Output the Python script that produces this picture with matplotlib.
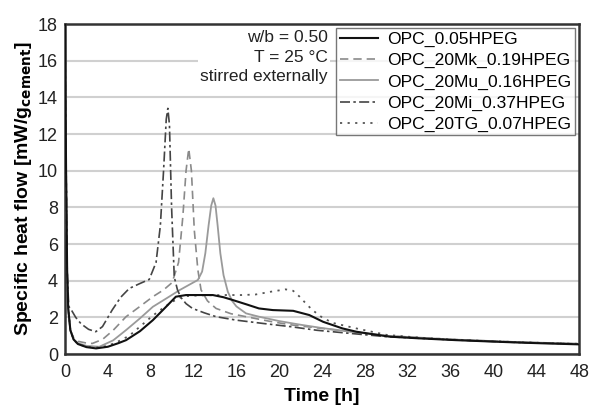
import matplotlib
matplotlib.use("Agg")
import matplotlib.pyplot as plt

plt.rcParams['font.family'] = ['Liberation Sans', 'DejaVu Sans']

# ---- data ----
t_opc = [0, 0.1, 0.2, 0.3, 0.5, 0.8, 1.2, 2.0, 2.9, 4.0, 5.0, 5.7, 7.0, 8.2, 9.3, 10.35, 11.3, 12.5, 13.8, 14.8,
         15.65, 17.0, 18.1, 19.4, 21.3, 22.8, 24.1, 25.9, 27.2, 30.3, 33, 36.5, 40, 42.8, 45, 48]
v_opc = [18, 10, 4.5, 2.5, 1.3, 0.8, 0.55, 0.38, 0.31, 0.4, 0.6, 0.76, 1.25, 1.85, 2.5, 3.13, 3.22, 3.22, 3.22, 3.1,
         2.95, 2.7, 2.49, 2.4, 2.36, 2.13, 1.76, 1.4, 1.22, 0.95, 0.86, 0.76, 0.68, 0.62, 0.58, 0.53]

t_mk = [0, 0.1, 0.2, 0.3, 0.5, 0.8, 1.2, 2.0, 2.55, 3.5, 4.5, 5.7, 7.0, 8.2, 9.2, 10.0, 10.6, 11.0, 11.3, 11.55,
        11.8, 12.07, 12.4, 12.7, 13.3, 14.1, 15.5, 16.9, 19, 21, 24, 27, 30, 36, 42, 48]
v_mk = [18, 10, 4.5, 2.4, 1.3, 0.9, 0.7, 0.6, 0.58, 0.8, 1.3, 2.04, 2.6, 3.13, 3.5, 3.9, 5.0, 7.5, 10.0, 11.2,
        10.0, 6.76, 4.6, 3.5, 2.9, 2.49, 2.2, 2.04, 1.8, 1.6, 1.4, 1.2, 1.0, 0.8, 0.66, 0.56]

t_mu = [0, 0.1, 0.2, 0.3, 0.5, 0.8, 1.2, 2.0, 3.2, 4.5, 5.7, 7.0, 8.2, 9.5, 10.7, 11.5, 12.4, 12.8, 13.1, 13.4,
        13.65, 13.85, 14.05, 14.25, 14.5, 14.8, 15.2, 15.6, 16.0, 16.9, 18.1, 20, 22, 24, 27, 30, 36, 42, 48]
v_mu = [18, 10, 4.5, 2.4, 1.3, 0.8, 0.6, 0.45, 0.40, 0.75, 1.31, 1.95, 2.58, 3.05, 3.49, 3.75, 4.04, 4.5, 5.5, 7.0,
        8.1, 8.5, 8.1, 7.0, 5.5, 4.3, 3.4, 2.9, 2.6, 2.22, 2.04, 1.8, 1.6, 1.42, 1.2, 1.0, 0.8, 0.66, 0.56]

t_mi = [0, 0.1, 0.2, 0.35, 0.6, 1.0, 1.5, 2.2, 2.87, 3.5, 4.4, 5.2, 6.0, 7.0, 7.86, 8.5, 8.9, 9.2, 9.45, 9.6,
        9.75, 9.95, 10.2, 10.5, 10.8, 11.3, 11.9, 13.0, 14.1, 16, 18.5, 21, 23.5, 26.6, 30, 36, 42, 48]
v_mi = [18, 10, 4.5, 2.6, 2.4, 2.0, 1.65, 1.35, 1.22, 1.5, 2.4, 3.1, 3.58, 3.85, 4.07, 5.0, 7.0, 10.0, 12.8, 13.4,
        12.5, 8.0, 4.2, 3.5, 3.1, 2.75, 2.49, 2.25, 2.04, 1.85, 1.67, 1.5, 1.3, 1.13, 0.95, 0.78, 0.64, 0.55]

t_tg = [0, 0.1, 0.2, 0.3, 0.5, 0.8, 1.2, 2.0, 2.9, 4.0, 5.0, 6.0, 7.0, 8.2, 9.1, 10.0, 11.0, 12.5, 14.7, 16.5,
        17.8, 19.2, 20.6, 21.3, 21.9, 22.5, 23.1, 24.0, 25.0, 27.2, 30, 33, 36.5, 40, 44, 48]
v_tg = [18, 10, 4.5, 2.5, 1.3, 0.8, 0.55, 0.4, 0.35, 0.45, 0.7, 1.0, 1.5, 2.1, 2.49, 2.85, 3.15, 3.2, 3.22, 3.22,
        3.25, 3.4, 3.53, 3.45, 3.13, 2.75, 2.4, 2.0, 1.7, 1.4, 1.05, 0.9, 0.78, 0.7, 0.62, 0.56]

labels = ["OPC_0.05HPEG", "OPC_20Mk_0.19HPEG", "OPC_20Mu_0.16HPEG", "OPC_20Mi_0.37HPEG", "OPC_20TG_0.07HPEG"]
x_ticks = list(range(0, 49, 4))
y_ticks = list(range(0, 19, 2))

# ---- plot ----
fig = plt.figure(figsize=(5.91, 4.07), dpi=100)
ax = fig.add_axes([0.110, 0.130, 0.870, 0.811])

ax.plot(t_opc, v_opc, color='#111111', lw=1.5, ls='-', label=labels[0], zorder=5)
ax.plot(t_mk, v_mk, color='#8a8a8a', lw=1.2, ls=(0, (5, 3)), label=labels[1], zorder=4)
ax.plot(t_mu, v_mu, color='#9a9a9a', lw=1.3, ls='-', label=labels[2], zorder=4)
ax.plot(t_mi, v_mi, color='#444444', lw=1.2, ls=(0, (6, 2, 1.5, 2)), label=labels[3], zorder=4)
ax.plot(t_tg, v_tg, color='#555555', lw=1.3, ls=(0, (1.2, 3)), label=labels[4], zorder=4)

ax.set_xlim(0, 48)
ax.set_ylim(0, 18)
ax.set_xticks(x_ticks)
ax.set_yticks(y_ticks)
ax.tick_params(axis='both', length=0, labelsize=13, colors='#222222')
ax.tick_params(axis='x', pad=7)
ax.tick_params(axis='y', pad=5)
ax.yaxis.grid(True, color='#d0d0d0', lw=1.5, zorder=0)
ax.set_axisbelow(True)
for s in ax.spines.values():
    s.set_color('#333333')
    s.set_linewidth(1.8)

ax.set_xlabel("Time [h]", fontsize=14, fontweight='bold', labelpad=5)
ax.set_ylabel(r"Specific heat flow [mW/g$_{\mathbf{cement}}$]", fontsize=14, fontweight='bold', labelpad=3)

txt = "w/b = 0.50\nT = 25 °C\nstirred externally"
ax.text(0.511, 0.982, txt, transform=ax.transAxes, ha='right', va='top', fontsize=12.5,
        linespacing=1.38, color='#222222',
        bbox=dict(facecolor='white', edgecolor='none', pad=1.5), zorder=6)

leg = ax.legend(loc='upper right', bbox_to_anchor=(1.0, 1.0), fontsize=12.6, frameon=True,
                fancybox=False, edgecolor='#555555', handlelength=2.2, handletextpad=0.5,
                borderpad=0.2, labelspacing=0.33, borderaxespad=0.25)
leg.get_frame().set_linewidth(1.0)
leg.set_zorder(7)

fig.savefig("out.png", dpi=100)
